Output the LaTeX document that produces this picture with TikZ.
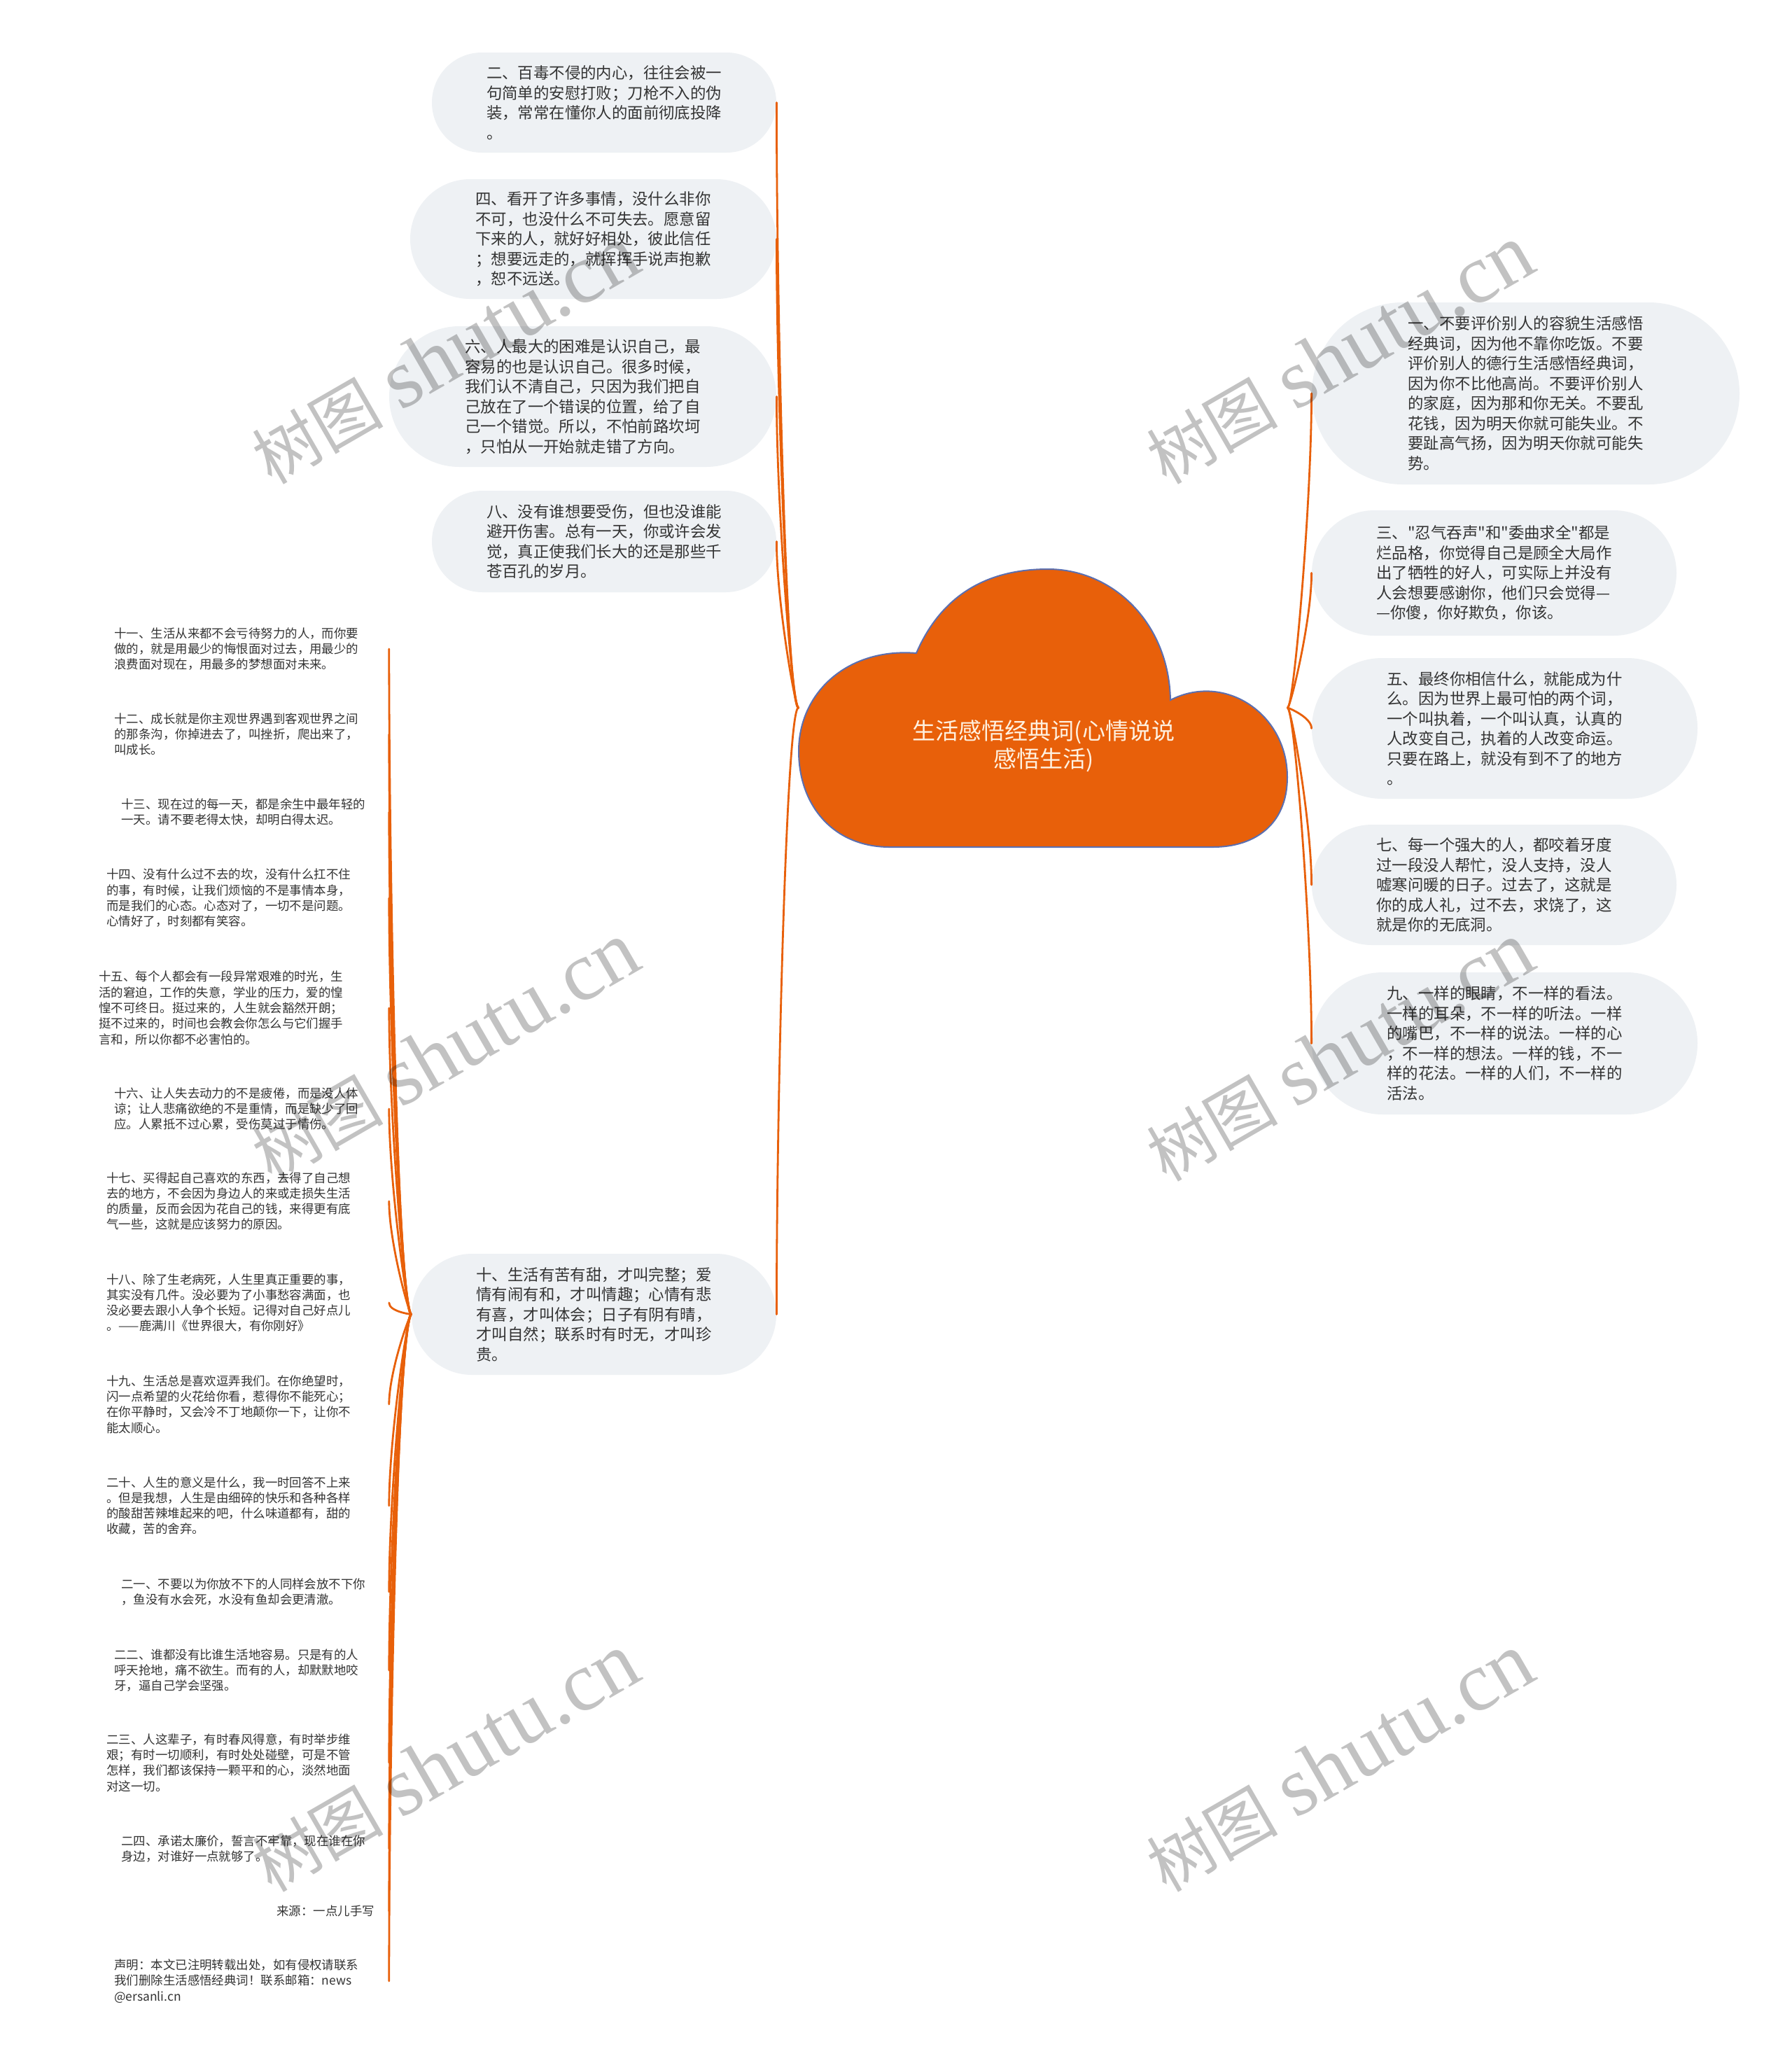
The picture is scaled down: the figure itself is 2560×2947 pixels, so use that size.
\documentclass[tikz,border=0pt]{standalone}
\usepackage{fontspec}
\setmainfont{Noto Sans CJK SC}[Ligatures=TeXOff]
\newfontfamily\wmserif{Liberation Serif}
\usetikzlibrary{shapes.misc}
\definecolor{brorange}{HTML}{E8600A}
\definecolor{boxfill}{HTML}{EEF1F4}
\definecolor{txt}{HTML}{333333}
\definecolor{cloudline}{HTML}{5B6FB0}
\definecolor{cloudtxt}{HTML}{FFF1E0}
\begin{document}
\begin{tikzpicture}[x=0.5pt,y=-0.5pt,
  box/.style={rounded rectangle, fill=boxfill, text=txt, align=left,
    font=\fontsize{11.2pt}{14.25pt}\selectfont, inner sep=0pt},
  leaf/.style={anchor=west, inner sep=0pt, align=left, text=txt,
    font=\fontsize{8.72pt}{11.15pt}\selectfont},
  conn/.style={draw=brorange, line width=1.4pt, line cap=round},
  toup/.style={in=-90, out looseness=0.05, in looseness=0.9},
  todown/.style={in=90, out looseness=0.05, in looseness=0.9},
  wmark/.style={text=black, opacity=0.24, rotate=30, inner sep=0pt}
]
\fill[white] (0,0) rectangle (2560,2947);
\useasboundingbox (0,0) rectangle (2560,2947);

% root (cloud bounding box)
\node[inner sep=0pt, minimum width=349pt, minimum height=199pt] (root) at (1490,1011) {};

% left boxes
\node[box, minimum width=246pt, minimum height=71.5pt] (b2) at (863,146.5) {二、百毒不侵的内心，往往会被一\\句简单的安慰打败；刀枪不入的伪\\装，常常在懂你人的面前彻底投降\\。};
\node[box, minimum width=261.5pt, minimum height=85.5pt] (b4) at (847.5,341.5) {四、看开了许多事情，没什么非你\\不可，也没什么不可失去。愿意留\\下来的人，就好好相处，彼此信任\\；想要远走的，就挥挥手说声抱歉\\，恕不远送。};
\node[box, minimum width=276.5pt, minimum height=100.5pt] (b6) at (832.5,566.5) {六、人最大的困难是认识自己，最\\容易的也是认识自己。很多时候，\\我们认不清自己，只因为我们把自\\己放在了一个错误的位置，给了自\\己一个错觉。所以，不怕前路坎坷\\，只怕从一开始就走错了方向。};
\node[box, minimum width=246pt, minimum height=72.5pt] (b8) at (863,773.5) {八、没有谁想要受伤，但也没谁能\\避开伤害。总有一天，你或许会发\\觉，真正使我们长大的还是那些千\\苍百孔的岁月。};
\node[box, minimum width=260.5pt, minimum height=86.5pt] (b10) at (848.5,1877.5) {十、生活有苦有甜，才叫完整；爱\\情有闹有和，才叫情趣；心情有悲\\有喜，才叫体会；日子有阴有晴，\\才叫自然；联系时有时无，才叫珍\\贵。};

% right boxes
\node[box, minimum width=305.5pt, minimum height=130pt] (b1) at (2179.5,562) {一、不要评价别人的容貌生活感悟\\经典词，因为他不靠你吃饭。不要\\评价别人的德行生活感悟经典词，\\因为你不比他高尚。不要评价别人\\的家庭，因为那和你无关。不要乱\\花钱，因为明天你就可能失业。不\\要趾高气扬，因为明天你就可能失\\势。};
\node[box, minimum width=260.5pt, minimum height=89.5pt] (b3) at (2134.5,818.5) {三、"忍气吞声"和"委曲求全"都是\\烂品格，你觉得自己是顾全大局作\\出了牺牲的好人，可实际上并没有\\人会想要感谢你，他们只会觉得—\\—你傻，你好欺负，你该。};
\node[box, minimum width=275.5pt, minimum height=100.5pt] (b5) at (2149.5,1040.5) {五、最终你相信什么，就能成为什\\么。因为世界上最可怕的两个词，\\一个叫执着，一个叫认真，认真的\\人改变自己，执着的人改变命运。\\只要在路上，就没有到不了的地方\\。};
\node[box, minimum width=260.5pt, minimum height=86pt] (b7) at (2134.5,1264) {七、每一个强大的人，都咬着牙度\\过一段没人帮忙，没人支持，没人\\嘘寒问暖的日子。过去了，这就是\\你的成人礼，过不去，求饶了，这\\就是你的无底洞。};
\node[box, minimum width=275.5pt, minimum height=101.5pt] (b9) at (2149.5,1490.5) {九、一样的眼睛，不一样的看法。\\一样的耳朵，不一样的听法。一样\\的嘴巴，不一样的说法。一样的心\\，不一样的想法。一样的钱，不一\\样的花法。一样的人们，不一样的\\活法。};

% leaves of b10
\node[leaf, text width=196pt] (l11) at (163,927) {十一、生活从来都不会亏待努力的人，而你要\\做的，就是用最少的悔恨面对过去，用最少的\\浪费面对现在，用最多的梦想面对未来。};
\node[leaf, text width=196pt] (l12) at (163,1049) {十二、成长就是你主观世界遇到客观世界之间\\的那条沟，你掉进去了，叫挫折，爬出来了，\\叫成长。};
\node[leaf, text width=191pt] (l13) at (173,1160) {十三、现在过的每一天，都是余生中最年轻的\\一天。请不要老得太快，却明白得太迟。};
\node[leaf, text width=201.5pt] (l14) at (152,1283) {十四、没有什么过不去的坎，没有什么扛不住\\的事，有时候，让我们烦恼的不是事情本身，\\而是我们的心态。心态对了，一切不是问题。\\心情好了，时刻都有笑容。};
\node[leaf, text width=207pt] (l15) at (141,1440) {十五、每个人都会有一段异常艰难的时光，生\\活的窘迫，工作的失意，学业的压力，爱的惶\\惶不可终日。挺过来的，人生就会豁然开朗；\\挺不过来的，时间也会教会你怎么与它们握手\\言和，所以你都不必害怕的。};
\node[leaf, text width=196pt] (l16) at (163,1584) {十六、让人失去动力的不是疲倦，而是没人体\\谅；让人悲痛欲绝的不是重情，而是缺少了回\\应。人累抵不过心累，受伤莫过于情伤。};
\node[leaf, text width=201.5pt] (l17) at (152,1716) {十七、买得起自己喜欢的东西，去得了自己想\\去的地方，不会因为身边人的来或走损失生活\\的质量，反而会因为花自己的钱，来得更有底\\气一些，这就是应该努力的原因。};
\node[leaf, text width=201.5pt] (l18) at (152,1861) {十八、除了生老病死，人生里真正重要的事，\\其实没有几件。没必要为了小事愁容满面，也\\没必要去跟小人争个长短。记得对自己好点儿\\。——鹿满川《世界很大，有你刚好》};
\node[leaf, text width=201.5pt] (l19) at (152,2006) {十九、生活总是喜欢逗弄我们。在你绝望时，\\闪一点希望的火花给你看，惹得你不能死心；\\在你平静时，又会冷不丁地颠你一下，让你不\\能太顺心。};
\node[leaf, text width=201.5pt] (l20) at (152,2151) {二十、人生的意义是什么，我一时回答不上来\\。但是我想，人生是由细碎的快乐和各种各样\\的酸甜苦辣堆起来的吧，什么味道都有，甜的\\收藏，苦的舍弃。};
\node[leaf, text width=191pt] (l21) at (173,2274) {二一、不要以为你放不下的人同样会放不下你\\，鱼没有水会死，水没有鱼却会更清澈。};
\node[leaf, text width=196pt] (l22) at (163,2386) {二二、谁都没有比谁生活地容易。只是有的人\\呼天抢地，痛不欲生。而有的人，却默默地咬\\牙，逼自己学会坚强。};
\node[leaf, text width=201.5pt] (l23) at (152,2518) {二三、人这辈子，有时春风得意，有时举步维\\艰；有时一切顺利，有时处处碰壁，可是不管\\怎样，我们都该保持一颗平和的心，淡然地面\\对这一切。};
\node[leaf, text width=191pt] (l24) at (173,2641) {二四、承诺太廉价，誓言不牢靠，现在谁在你\\身边，对谁好一点就够了。};
\node[leaf, text width=80pt] (lsrc) at (395,2730) {来源：一点儿手写};
\node[leaf, text width=196pt] (lsm) at (163,2830) {声明：本文已注明转载出处，如有侵权请联系\\我们删除生活感悟经典词！联系邮箱：news\\@ersanli.cn};

% connectors: root to boxes
\draw[conn] (root.west) to[out=180, toup] (b2.east);
\draw[conn] (root.west) to[out=180, toup] (b4.east);
\draw[conn] (root.west) to[out=180, toup] (b6.east);
\draw[conn] (root.west) to[out=180, toup] (b8.east);
\draw[conn] (root.west) to[out=180, todown] (b10.east);
\draw[conn] (root.east) to[out=0, toup] (b1.west);
\draw[conn] (root.east) to[out=0, toup] (b3.west);
\draw[conn] (root.east) to[out=0, todown] (b5.west);
\draw[conn] (root.east) to[out=0, todown] (b7.west);
\draw[conn] (root.east) to[out=0, todown] (b9.west);

% connectors: b10 to leaves
\foreach \n in {l11,l12,l13,l14,l15,l16,l17,l18}
  \draw[conn] (b10.west) to[out=180, toup] (\n.east);
\foreach \n in {l19,l20,l21,l22,l23,l24,lsrc,lsm}
  \draw[conn] (b10.west) to[out=180, todown] (\n.east);

% cloud
\filldraw[fill=brorange, draw=cloudline, line width=1pt]
  (1309,933) .. controls (1345,850) and (1410,813) .. (1497,813)
  .. controls (1590,813) and (1670,890) .. (1672,1000)
  .. controls (1750,960) and (1839,1020) .. (1839,1110)
  .. controls (1839,1180) and (1790,1210) .. (1733,1210)
  -- (1271,1210)
  .. controls (1190,1210) and (1141,1150) .. (1141,1073)
  .. controls (1141,990) and (1210,925) .. (1309,933) -- cycle;
\node[font=\fontsize{16.5pt}{20pt}\selectfont, text=cloudtxt, align=center] (title) at (1491,1066) {生活感悟经典词(心情说说\\感悟生活)};

% watermarks
\foreach \wx/\wy [count=\i] in {636/507, 1914/507, 636/1503, 1914/1503, 636/2518, 1914/2518}
  \node[wmark] (wm\i) at (\wx,\wy) {{\fontsize{47pt}{47pt}\selectfont 树图}\hspace{12pt}{\wmserif\fontsize{60pt}{60pt}\selectfont shutu.cn}};
\end{tikzpicture}
\end{document}
